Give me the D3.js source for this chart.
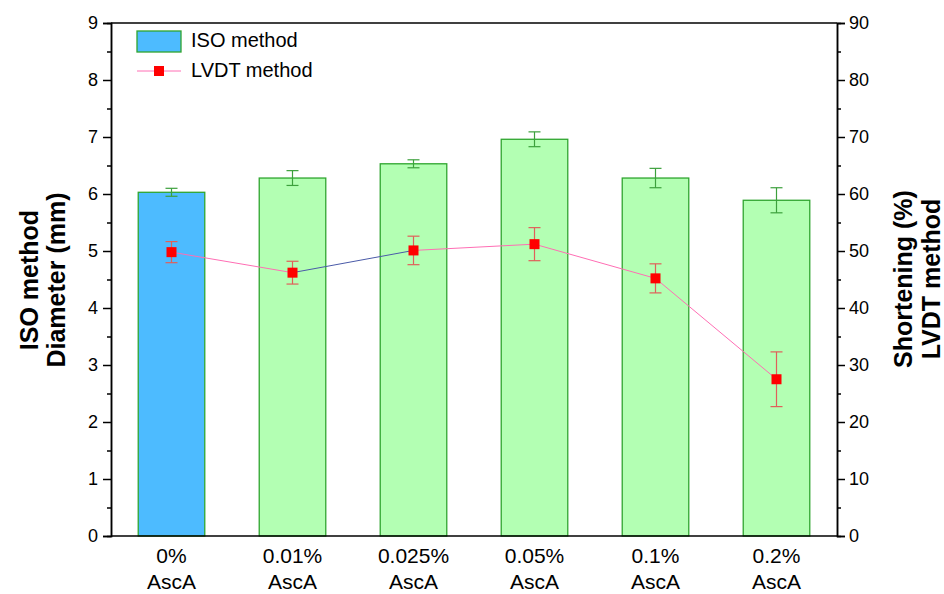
<!DOCTYPE html>
<html>
<head>
<meta charset="utf-8">
<script src="https://cdn.jsdelivr.net/npm/d3@7"></script>
<style>
  body { margin: 0; background: #fff; }
  svg { font-family: "Liberation Sans", Arial, sans-serif; }
</style>
</head>
<body>
<svg id="chart" width="944" height="594"></svg>
<script>
'use strict';

// data
var categories = ['0%', '0.01%', '0.025%', '0.05%', '0.1%', '0.2%'];
var isoDiameter = [6.03, 6.28, 6.53, 6.96, 6.28, 5.89];   // mm, left axis
var isoError    = [0.07, 0.13, 0.07, 0.13, 0.17, 0.22];
var lvdtShort   = [49.8, 46.2, 50.1, 51.2, 45.2, 27.5];   // %, right axis
var lvdtError   = [1.85, 2.0, 2.5, 2.9, 2.55, 4.8];
var leftTicks   = [0, 1, 2, 3, 4, 5, 6, 7, 8, 9];
var rightTicks  = [0, 10, 20, 30, 40, 50, 60, 70, 80, 90];

var svg = d3.select('#chart');
var W = 944, H = 594;
var margin = { left: 111, right: W - 837, top: 23, bottom: H - 536 };

var x = d3.scaleBand().domain(categories)
  .range([margin.left, W - margin.right])
  .paddingInner(0.45).paddingOuter(0.225);
var yL = d3.scaleLinear().domain([0, 9]).range([H - margin.bottom, margin.top]);
var yR = d3.scaleLinear().domain([0, 90]).range([H - margin.bottom, margin.top]);

var barFill = function(d, i) { return i === 0 ? '#4dbbff' : '#b3ffb3'; };
var cxOf = function(i) { return x(categories[i]) + x.bandwidth() / 2; };

// bars
svg.append('g').selectAll('rect')
  .data(isoDiameter)
  .enter().append('rect')
  .attr('x', function(d, i) { return x(categories[i]); })
  .attr('y', function(d) { return yL(d); })
  .attr('width', x.bandwidth())
  .attr('height', function(d) { return yL(0) - yL(d); })
  .attr('fill', barFill)
  .attr('stroke', '#2fa52f')
  .attr('stroke-width', 1.3);

// bar error bars
var eb = svg.append('g').attr('stroke', '#3ca03c').attr('stroke-width', 1.2);
isoDiameter.forEach(function(d, i) {
  var cx = cxOf(i);
  var top = yL(d + isoError[i]), bot = yL(d - isoError[i]);
  eb.append('line').attr('x1', cx).attr('x2', cx).attr('y1', top).attr('y2', bot);
  eb.append('line').attr('x1', cx - 6).attr('x2', cx + 6).attr('y1', top).attr('y2', top);
  eb.append('line').attr('x1', cx - 6).attr('x2', cx + 6).attr('y1', bot).attr('y2', bot);
});

// LVDT line, segment by segment (one of them renders blue in the original)
var segColor = ['#ff6eb4', '#4a5aa8', '#ff6eb4', '#ff6eb4', '#ff6eb4'];
for (var i = 0; i < lvdtShort.length - 1; i++) {
  svg.append('line')
    .attr('x1', cxOf(i)).attr('y1', yR(lvdtShort[i]))
    .attr('x2', cxOf(i + 1)).attr('y2', yR(lvdtShort[i + 1]))
    .attr('stroke', segColor[i]).attr('stroke-width', 1);
}

// LVDT error bars
var le = svg.append('g').attr('stroke', '#e0605a').attr('stroke-width', 1.2);
lvdtShort.forEach(function(d, i) {
  var cx = cxOf(i);
  var top = yR(d + lvdtError[i]), bot = yR(d - lvdtError[i]);
  le.append('line').attr('x1', cx).attr('x2', cx).attr('y1', top).attr('y2', bot);
  le.append('line').attr('x1', cx - 6).attr('x2', cx + 6).attr('y1', top).attr('y2', top);
  le.append('line').attr('x1', cx - 6).attr('x2', cx + 6).attr('y1', bot).attr('y2', bot);
});

// markers
svg.append('g').selectAll('rect')
  .data(lvdtShort)
  .enter().append('rect')
  .attr('x', function(d, i) { return cxOf(i) - 5; })
  .attr('y', function(d) { return yR(d) - 5; })
  .attr('width', 10).attr('height', 10)
  .attr('fill', '#ff0000');

// axes
var minorL = d3.range(0.5, 9, 1);
var minorR = d3.range(5, 90, 10);

svg.append('g').attr('transform', 'translate(' + margin.left + ',0)')
  .call(d3.axisLeft(yL).tickValues(leftTicks).tickSize(8).tickPadding(5).tickFormat(d3.format('d')));
svg.append('g').attr('transform', 'translate(' + margin.left + ',0)')
  .call(d3.axisLeft(yL).tickValues(minorL).tickSize(4).tickFormat(''));

svg.append('g').attr('transform', 'translate(' + (W - margin.right) + ',0)')
  .call(d3.axisRight(yR).tickValues(rightTicks).tickSize(8).tickPadding(4).tickFormat(d3.format('d')));
svg.append('g').attr('transform', 'translate(' + (W - margin.right) + ',0)')
  .call(d3.axisRight(yR).tickValues(minorR).tickSize(4).tickFormat(''));

svg.selectAll('.domain').attr('stroke', '#000').attr('stroke-width', 1.5);
svg.selectAll('.tick line').attr('stroke', '#000').attr('stroke-width', 1.5);
svg.selectAll('.tick text').attr('font-size', 18).attr('fill', '#000')
  .attr('font-family', '"Liberation Sans", Arial, sans-serif');

// top and bottom frame lines
svg.append('line').attr('x1', margin.left).attr('x2', W - margin.right)
  .attr('y1', yL(9)).attr('y2', yL(9)).attr('stroke', '#000').attr('stroke-width', 1.5);
svg.append('line').attr('x1', margin.left).attr('x2', W - margin.right)
  .attr('y1', yL(0)).attr('y2', yL(0)).attr('stroke', '#000').attr('stroke-width', 1.5);

// category labels
var cat = svg.append('g').attr('font-size', 21).attr('text-anchor', 'middle');
categories.forEach(function(c, i) {
  var t = cat.append('text').attr('x', cxOf(i)).attr('y', 563);
  t.append('tspan').attr('x', cxOf(i)).text(c);
  t.append('tspan').attr('x', cxOf(i)).attr('dy', 26).text('AscA');
});

// axis titles
var lt = svg.append('text').attr('transform', 'translate(0,280) rotate(-90)')
  .attr('text-anchor', 'middle').attr('font-size', 25).attr('font-weight', 'bold');
lt.append('tspan').attr('x', 0).attr('y', 38).text('ISO method');
lt.append('tspan').attr('x', 0).attr('y', 65).text('Diameter (mm)');

var rt = svg.append('text').attr('transform', 'translate(0,279) rotate(-90)')
  .attr('text-anchor', 'middle').attr('font-size', 25).attr('font-weight', 'bold');
rt.append('tspan').attr('x', 0).attr('y', 912).text('Shortening (%)');
rt.append('tspan').attr('x', 0).attr('y', 940).text('LVDT method');

// legend
var lg = svg.append('g');
lg.append('rect').attr('x', 137).attr('y', 31).attr('width', 44).attr('height', 21)
  .attr('fill', '#4dbbff').attr('stroke', '#2fa52f').attr('stroke-width', 1.3);
lg.append('text').attr('x', 191).attr('y', 47).attr('font-size', 20).text('ISO method');
lg.append('line').attr('x1', 137).attr('x2', 181).attr('y1', 71).attr('y2', 71)
  .attr('stroke', '#ff6eb4').attr('stroke-width', 1);
lg.append('rect').attr('x', 154).attr('y', 66).attr('width', 10).attr('height', 10).attr('fill', '#ff0000');
lg.append('text').attr('x', 191).attr('y', 77).attr('font-size', 20).text('LVDT method');
</script>
</body>
</html>
